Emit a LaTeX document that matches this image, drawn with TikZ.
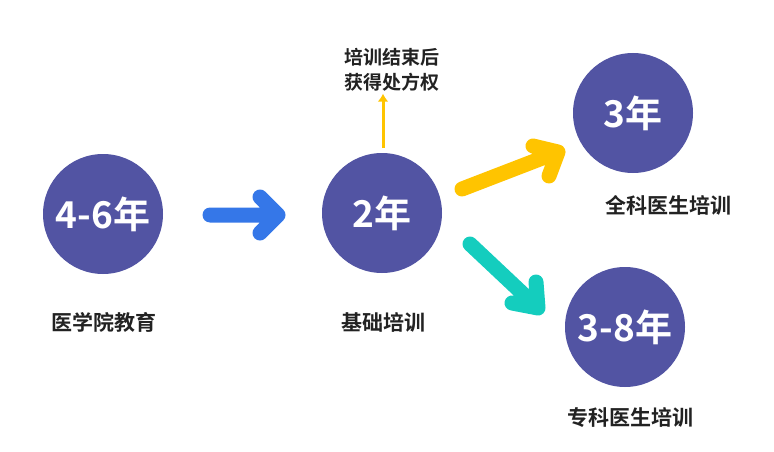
\documentclass[tikz,border=0pt]{standalone}
\usepackage{fontspec}
\setmainfont{Noto Sans CJK SC}[BoldFont={* Bold}]
\usetikzlibrary{calc,arrows.meta}
\definecolor{circ}{HTML}{5254A3}
\definecolor{blu}{HTML}{3577E8}
\definecolor{yel}{HTML}{FFC400}
\definecolor{tea}{HTML}{14CDBE}
\definecolor{txt}{HTML}{222222}
\begin{document}
\begin{tikzpicture}[x=1pt,y=-1pt,
 yr/.style={circle,fill=circ,minimum size=120pt,inner sep=0pt,text=white,font=\bfseries\fontsize{37}{40}\selectfont},
 lab/.style={text=txt,font=\bfseries\fontsize{21}{24}\selectfont},
 fat/.style={line width=15pt,line cap=round,line join=round}]
\useasboundingbox (0,0) rectangle (774,452);
\node[yr] (c1) at (103,214) {4-6年};
\node[yr] (c2) at (382,213) {2年};
\node[yr] (c3) at (633,113) {3年};
\node[yr] (c4) at (625,327) {3-8年};
\node[lab] (l1) at (104,322) {医学院教育};
\node[lab] (l2) at (383,322) {基础培训};
\node[lab] (l3) at (668,205) {全科医生培训};
\node[lab] (l4) at (630,418) {专科医生培训};
\node[text=txt,font=\bfseries\fontsize{19}{25}\selectfont,align=center,inner sep=2pt] (n) at (392,70) {培训结束后\\获得处方权};
% blue
\coordinate (b1) at (210,215); \coordinate (b2) at (278,215);
\draw[blu,fat] (b1) -- (b2) (260,197) -- (b2) -- (260,233);
% yellow
\coordinate (y1) at (462,189); \coordinate (y2) at (558,152);
\draw[yel,fat] (y1) -- (y2) (533,146) -- (y2) -- (549,176);
% teal
\coordinate (t1) at (470,244); \coordinate (t2) at (538,308);
\draw[tea,fat] (t1) -- (t2) (512,303) -- (t2) -- (536,282);
% small
\coordinate (s1) at (383,148);
\draw[yel,line width=3pt,-{Latex[length=8pt,width=11pt]}] (s1) -- (n.south -| s1);
\end{tikzpicture}
\end{document}
